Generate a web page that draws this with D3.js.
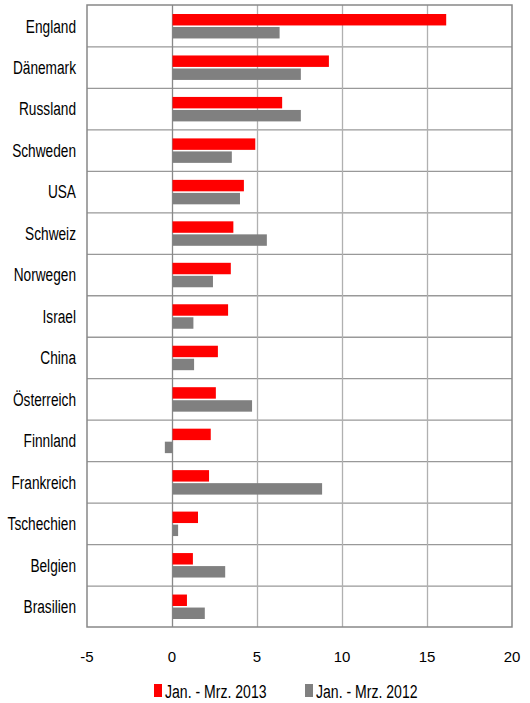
<!DOCTYPE html>
<html>
<head>
<meta charset="utf-8">
<script src="https://cdn.jsdelivr.net/npm/d3@7"></script>
<style>
  body { margin: 0; background: #fff; }
  svg text { font-family: "Liberation Sans", Arial, sans-serif; fill: #000; }
</style>
</head>
<body>
<svg id="chart" width="530" height="703"></svg>
<script>
let countries = ["England", "Dänemark", "Russland", "Schweden", "USA", "Schweiz", "Norwegen",
    "Israel", "China", "Österreich", "Finnland", "Frankreich", "Tschechien", "Belgien", "Brasilien"];
let values2013 = [16.1, 9.2, 6.45, 4.87, 4.2, 3.58, 3.43, 3.27, 2.67, 2.55, 2.25, 2.15, 1.5, 1.2, 0.85];
let values2012 = [6.3, 7.55, 7.55, 3.49, 3.97, 5.55, 2.38, 1.23, 1.27, 4.68, -0.45, 8.8, 0.33, 3.1, 1.9];
let xTicks = [-5, 0, 5, 10, 15, 20];
let seriesNames = ["Jan. - Mrz. 2013", "Jan. - Mrz. 2012"];
let seriesColors = ["#ff0000", "#808080"];

let plotLeft = 87, plotRight = 512, plotTop = 5, plotBottom = 627;
let squeeze = 0.72; // labels are horizontally condensed in the original

let svg = d3.select("#chart");

let x = d3.scaleLinear().domain([-5, 20]).range([plotLeft, plotRight]);
let y = d3.scaleBand().domain(countries).range([plotTop, plotBottom]);
let inner = d3.scaleBand().domain([0, 1]).range([9, y.bandwidth() - 8]).paddingInner(0.12);

// horizontal grid between categories
svg.append("g")
    .selectAll("line")
    .data(countries.slice(1))
    .enter().append("line")
    .attr("x1", plotLeft).attr("x2", plotRight)
    .attr("y1", (d) => y(d) + 0.5).attr("y2", (d) => y(d) + 0.5)
    .attr("stroke", "#999").attr("stroke-width", 1.3);

// vertical grid
svg.append("g")
    .selectAll("line")
    .data(xTicks.slice(1, -1))
    .enter().append("line")
    .attr("x1", (d) => Math.round(x(d)) + 0.5).attr("x2", (d) => Math.round(x(d)) + 0.5)
    .attr("y1", plotTop).attr("y2", plotBottom)
    .attr("stroke", (d) => d === 0 ? "#888" : "#b0b0b0").attr("stroke-width", 1.3);

// bars
let rows = svg.append("g")
    .selectAll("g")
    .data(countries)
    .enter().append("g")
    .attr("transform", (d) => "translate(0," + y(d) + ")");

[values2013, values2012].forEach((vals, s) => {
    rows.append("rect")
        .attr("x", (d, i) => x(Math.min(0, vals[i])) + 0.5)
        .attr("width", (d, i) => Math.abs(x(vals[i]) - x(0)))
        .attr("y", inner(s))
        .attr("height", inner.bandwidth())
        .attr("fill", seriesColors[s]);
});

// frame
svg.append("rect")
    .attr("x", plotLeft).attr("y", plotTop)
    .attr("width", plotRight - plotLeft).attr("height", plotBottom - plotTop)
    .attr("fill", "none").attr("stroke", "#888").attr("stroke-width", 1.5);

// category labels
svg.append("g")
    .selectAll("text")
    .data(countries)
    .enter().append("text")
    .attr("transform", (d) => "translate(76," + (y(d) + y.bandwidth() / 2 + 6.8) + ") scale(" + squeeze + ",1)")
    .attr("text-anchor", "end")
    .attr("font-size", 19)
    .text((d) => d);

// x axis labels
svg.append("g")
    .selectAll("text")
    .data(xTicks)
    .enter().append("text")
    .attr("x", (d) => x(d))
    .attr("y", 662)
    .attr("text-anchor", "middle")
    .attr("font-size", 15)
    .text((d) => d);

// legend
let legendX = [154, 305];
let legend = svg.append("g")
    .selectAll("g")
    .data(seriesNames)
    .enter().append("g")
    .attr("transform", (d, i) => "translate(" + legendX[i] + ",684)");
legend.append("rect")
    .attr("width", 8).attr("height", 13)
    .attr("fill", (d, i) => seriesColors[i]);
legend.append("text")
    .attr("transform", "translate(11,14) scale(" + (squeeze + 0.02) + ",1)")
    .attr("font-size", 19)
    .text((d) => d);
</script>
</body>
</html>
